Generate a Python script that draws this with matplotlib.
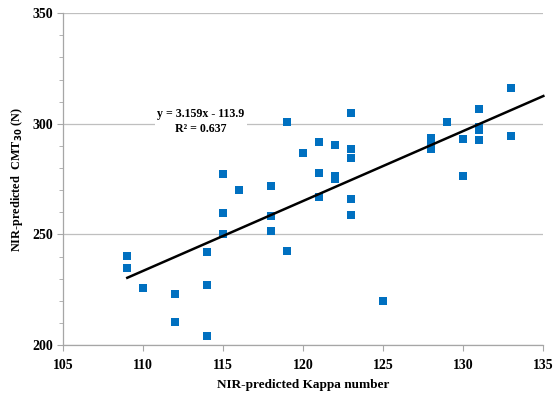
import numpy as np
import matplotlib.pyplot as plt

plt.rcParams['font.family'] = ['Liberation Serif', 'DejaVu Serif']
plt.rcParams['font.weight'] = 'bold'

# NIR-predicted Kappa number vs NIR-predicted CMT30
kappa = [109, 109, 110, 112, 112, 114, 114, 114, 115, 115, 115, 116,
         118, 118, 118, 119, 119, 120, 121, 121, 121, 122, 122, 122,
         123, 123, 123, 123, 123, 125, 128, 128, 128, 129, 130, 130,
         131, 131, 131, 131, 133, 133]
cmt = [240.5, 235, 226, 223, 210.5, 242, 227, 204, 277.5, 259.5, 250, 270,
       272, 258.5, 251.5, 301, 242.7, 287, 292, 278, 267, 290.5, 276.3, 275,
       305, 288.5, 284.5, 266, 259, 220, 293.8, 291.3, 288.5, 300.7, 293, 276.5,
       306.5, 298.5, 297, 292.5, 316.3, 294.7]

slope = 3.159
intercept = -113.9
fit_text = "y = 3.159x - 113.9\nR\u00b2 = 0.637"

fig = plt.figure(figsize=(5.55, 3.99), dpi=100)
ax = fig.add_axes([0.114, 0.135, 0.865, 0.832])

ax.scatter(kappa, cmt, marker='s', s=36, color='#0070C0', zorder=3, linewidths=0)

xl = np.array([min(kappa), 135])
ax.plot(xl, slope * xl + intercept, color='black', lw=1.8, zorder=4, clip_on=False)

ax.text(113.6, 301.0, fit_text, ha='center', va='center', fontsize=8.6,
        fontweight='bold', linespacing=1.25,
        bbox=dict(facecolor='white', edgecolor='none', pad=2), zorder=2)

ax.set_xlim(105, 135)
ax.set_ylim(200, 350)
ax.set_xticks(np.arange(105, 136, 5))
ax.set_yticks(np.arange(200, 351, 50))
ax.set_yticks(np.arange(200, 351, 10), minor=True)
ax.yaxis.grid(True, color='#bfbfbf', lw=0.9)
ax.set_axisbelow(True)

for s in ['top', 'right']:
    ax.spines[s].set_visible(False)
for s in ['left', 'bottom']:
    ax.spines[s].set_color('#a6a6a6')
    ax.spines[s].set_linewidth(0.9)

ax.tick_params(axis='both', which='both', colors='#a6a6a6', labelcolor='black',
               labelsize=10, direction='out')
ax.tick_params(axis='y', which='major', length=4)
ax.tick_params(axis='y', which='minor', length=3)
ax.tick_params(axis='x', length=4, pad=6)
for lab in ax.get_xticklabels() + ax.get_yticklabels():
    lab.set_fontweight('bold')

ax.set_xlabel('NIR-predicted Kappa number', fontsize=9.5, fontweight='bold', labelpad=5)
ax.set_ylabel('NIR-predicted  CMT$_{\\mathbf{30}}$ (N)', fontsize=8.8, fontweight='bold', labelpad=5)

fig.savefig('out.png', dpi=100)
